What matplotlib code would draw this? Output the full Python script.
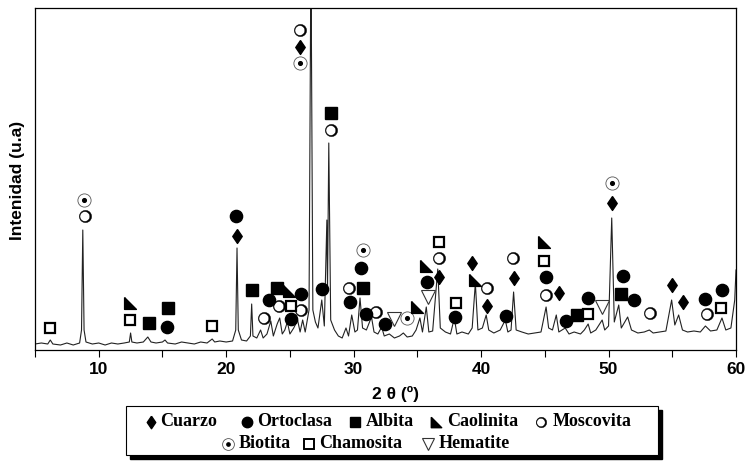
import matplotlib
matplotlib.use('Agg')
import matplotlib.pyplot as plt
from matplotlib.path import Path
from matplotlib.patches import Rectangle
import numpy as np

# XRD pattern (2theta in degrees, intensity in arbitrary units)
two_theta = [5.0, 5.5, 6.0, 6.2, 6.4, 7.0, 7.5, 8.0, 8.5, 8.65, 8.75, 8.85, 9.0, 9.5, 10.0,
             10.5, 11.0, 11.5, 12.0, 12.4, 12.5, 12.6, 13.0, 13.5, 13.85, 14.1, 14.5, 15.0,
             15.2, 15.4, 16.0, 16.5, 17.0, 17.5, 18.0, 18.5, 18.9, 19.1, 19.5, 20.0, 20.5,
             20.75, 20.85, 20.95, 21.2, 21.6, 21.9, 22.0, 22.1, 22.4, 22.7, 22.9, 23.2, 23.5,
             23.7, 24.0, 24.2, 24.4, 24.6, 24.8, 25.0, 25.3, 25.6, 25.8, 26.0, 26.2, 26.5,
             26.65, 26.8, 27.0, 27.2, 27.5, 27.7, 27.9, 27.95, 28.05, 28.2, 28.5, 28.8, 29.1,
             29.4, 29.6, 29.85, 30.1, 30.3, 30.5, 30.7, 31.0, 31.4, 31.6, 31.9, 32.2, 32.4,
             32.8, 33.2, 33.6, 33.9, 34.2, 34.6, 34.9, 35.2, 35.4, 35.7, 35.9, 36.2, 36.6,
             36.8, 37.2, 37.6, 37.9, 38.1, 38.5, 39.0, 39.3, 39.55, 39.75, 40.1, 40.4, 40.6,
             41.0, 41.5, 41.9, 42.1, 42.35, 42.55, 42.75, 43.2, 43.7, 44.2, 44.7, 45.1, 45.3,
             45.6, 45.9, 46.1, 46.6, 46.9, 47.3, 47.8, 48.1, 48.4, 48.6, 49.0, 49.5, 49.7,
             50.0, 50.25, 50.45, 50.8, 51.0, 51.5, 51.8, 52.3, 52.8, 53.2, 53.5, 54.0, 54.5,
             54.95, 55.2, 55.5, 55.8, 56.2, 56.7, 57.2, 57.6, 58.0, 58.5, 58.9, 59.2, 59.6,
             59.9, 60.0]
intensity = [6, 7, 6, 10, 6, 5, 7, 5, 7, 20, 120, 20, 8, 6, 7,
             5, 7, 6, 7, 8, 17, 8, 7, 8, 13, 8, 7, 8,
             10, 7, 6, 8, 7, 6, 8, 7, 11, 8, 9, 8, 9,
             20, 102, 20, 10, 9, 14, 46, 14, 12, 20, 12, 16, 29,
             14, 26, 32, 16, 20, 28, 16, 22, 30, 18, 30, 18, 40,
             400, 40, 28, 22, 50, 24, 130, 60, 207, 30, 20, 14, 12,
             22, 14, 35, 18, 20, 52, 22, 20, 33, 18, 16, 23, 14,
             16, 12, 14, 17, 13, 14, 20, 32, 18, 43, 18, 19, 81,
             22, 18, 16, 32, 16, 18, 16, 22, 67, 20, 22, 35, 20,
             17, 20, 30, 18, 20, 58, 20, 18, 16, 17, 18, 43, 22,
             20, 35, 18, 22, 16, 18, 16, 20, 26, 17, 20, 30, 20,
             24, 132, 28, 45, 22, 33, 20, 17, 18, 20, 17, 18, 19,
             50, 25, 35, 20, 18, 19, 18, 24, 19, 20, 32, 20, 22,
             50, 80]

# Phase markers (2theta, height)
cuarzo_x = [20.86, 25.78, 36.7, 39.25, 40.43, 42.58, 46.1, 50.3, 55.0, 55.86]
cuarzo_y = [114, 303, 73, 87, 44, 72, 57, 147, 65, 48]
ortoclasa_x = [15.36, 20.8, 23.35, 25.05, 25.9, 27.48, 29.7, 30.6, 30.96, 32.5, 35.77,
               37.94, 41.95, 45.06, 46.7, 48.4, 51.1, 52.0, 57.57, 58.87]
ortoclasa_y = [23, 134, 50, 31, 56, 61, 48, 82, 36, 26, 68,
               33, 34, 73, 29, 52, 74, 50, 51, 60]
albita_x = [13.92, 15.44, 22.03, 24.0, 28.2, 30.75, 47.5, 51.0]
albita_y = [27, 42, 60, 62, 237, 62, 35, 56]
caolinita_x = [12.43, 24.94, 34.98, 35.66, 39.5, 44.95]
caolinita_y = [47, 59, 43, 84, 70, 108]
moscovita_x = [8.9, 22.97, 24.15, 25.9, 25.78, 28.2, 29.65, 31.73, 36.7, 40.43, 42.5,
               45.06, 53.25, 57.7]
moscovita_y = [134, 32, 44, 40, 320, 220, 62, 38, 92, 62, 92, 55, 37, 36]
biotita_x = [8.85, 25.78, 30.75, 34.15, 50.3]
biotita_y = [150, 287, 100, 32, 167]
chamosita_x = [6.15, 12.43, 18.9, 25.05, 36.7, 38.0, 44.95, 48.36, 58.82]
chamosita_y = [22, 30, 24, 44, 108, 47, 89, 36, 42]
hematite_x = [33.18, 35.85, 49.45]
hematite_y = [31, 53, 43]

# custom marker shapes
diamond = [(0, 1), (0.68, 0), (0, -1), (-0.68, 0), (0, 1)]
corner_tri = [(-1, 1), (-1, -1), (1, -1), (-1, 1)]

t = np.linspace(0, 2 * np.pi, 60)
outer = np.column_stack([np.cos(t), np.sin(t)])
inner = np.column_stack([-0.1 + 0.8 * np.cos(t[::-1]), 0.8 * np.sin(t[::-1])])
ring_verts = np.vstack([outer, inner])
ring_codes = ([Path.MOVETO] + [Path.LINETO] * 58 + [Path.CLOSEPOLY]) * 2
crescent = Path(ring_verts, ring_codes)

sans = ['Liberation Sans', 'DejaVu Sans']
serif = ['Liberation Serif', 'DejaVu Serif']

fig = plt.figure(figsize=(7.5, 4.62), dpi=100)
W, H = 750.0, 462.0
ax = fig.add_axes([35 / W, 1 - 350 / H, (736 - 35) / W, (350 - 8) / H])

ax.plot(two_theta, intensity, color='#222222', lw=0.8, zorder=2)


def draw_moscovita(a, x, y, ms):
    a.plot(x, y, ls='none', marker='o', ms=ms, mfc='white', mec='none', zorder=3)
    a.plot(x, y, ls='none', marker=crescent, ms=ms, mfc='black', mec='black', mew=0.3, zorder=4)


def draw_biotita(a, x, y, ms):
    a.plot(x, y, ls='none', marker='o', ms=ms, mfc='white', mec='#555555', mew=0.6,
           zorder=3)
    a.plot(x, y, ls='none', marker='o', ms=ms * 0.28, mfc='black', mec='black', zorder=4)


ax.plot(cuarzo_x, cuarzo_y, ls='none', marker=diamond, ms=10, color='black', zorder=4)
ax.plot(ortoclasa_x, ortoclasa_y, ls='none', marker='o', ms=8.8, color='black', zorder=4)
ax.plot(albita_x, albita_y, ls='none', marker='s', ms=8, color='black', zorder=4)
ax.plot(caolinita_x, caolinita_y, ls='none', marker=corner_tri, ms=8.5, color='black',
        zorder=4)
draw_moscovita(ax, moscovita_x, moscovita_y, 8.8)
draw_biotita(ax, biotita_x, biotita_y, 9.5)
ax.plot(chamosita_x, chamosita_y, ls='none', marker='s', ms=7.8, mfc='white', mec='black',
        mew=1.6, zorder=4)
ax.plot(hematite_x, hematite_y, ls='none', marker='v', ms=9.5, mfc='white', mec='#333333',
        mew=0.8, zorder=4)

ax.set_xlim(5, 60)
ax.set_ylim(0, 342)
ax.set_xticks([10, 20, 30, 40, 50, 60])
ax.set_xticks([5, 15, 25, 35, 45, 55], minor=True)
ax.set_yticks([])
ax.tick_params(axis='x', which='both', direction='out', length=5, width=0.8, pad=4)
for lab in ax.get_xticklabels():
    lab.set_fontfamily(sans)
    lab.set_fontweight('bold')
    lab.set_fontsize(12.5)
for sp in ax.spines.values():
    sp.set_linewidth(0.9)

fig.text(18 / W, 1 - 180 / H, 'Intenidad (u.a)', rotation=90, ha='center', va='center',
         fontsize=12.5, fontweight='bold', family=sans)
fig.text(396 / W, 1 - 394 / H, '2 θ (º)', ha='center', va='center',
         fontsize=12.5, fontweight='bold', family=sans)

# legend box with shadow
fig.patches.append(Rectangle((130 / W, 1 - 459 / H), (662 - 130) / W, (459 - 410) / H,
                             transform=fig.transFigure, facecolor='black',
                             edgecolor='black', zorder=1))
fig.patches.append(Rectangle((126 / W, 1 - 455 / H), (658 - 126) / W, (455 - 406) / H,
                             transform=fig.transFigure, facecolor='white',
                             edgecolor='black', lw=0.8, zorder=2))

lax = fig.add_axes([0, 0, 1, 1], zorder=5)
lax.set_xlim(0, W)
lax.set_ylim(H, 0)
lax.axis('off')

row1, row2 = 422, 444
lax.plot(151, row1, marker=diamond, ms=9, color='black', ls='none')
lax.plot(247, row1, marker='o', ms=7.5, color='black', ls='none')
lax.plot(355, row1, marker='s', ms=7, color='black', ls='none')
lax.plot(436, row1, marker=corner_tri, ms=7.5, color='black', ls='none')
draw_moscovita(lax, [541], [row1], 7.5)
draw_biotita(lax, [228], [row2], 8.5)
lax.plot(309, row2, marker='s', ms=7, mfc='white', mec='black', mew=1.4, ls='none')
lax.plot(428, row2, marker='v', ms=8.5, mfc='white', mec='#333333', mew=0.8, ls='none')

items = [(160, row1, 'Cuarzo'), (257, row1, 'Ortoclasa'), (366, row1, 'Albita'),
         (447, row1, 'Caolinita'), (553, row1, 'Moscovita'),
         (239, row2, 'Biotita'), (319, row2, 'Chamosita'), (439, row2, 'Hematite')]
for x, y, s in items:
    lax.text(x, y, s, ha='left', va='center', fontsize=13, fontweight='bold', family=serif)

fig.savefig('out.png', dpi=100)
